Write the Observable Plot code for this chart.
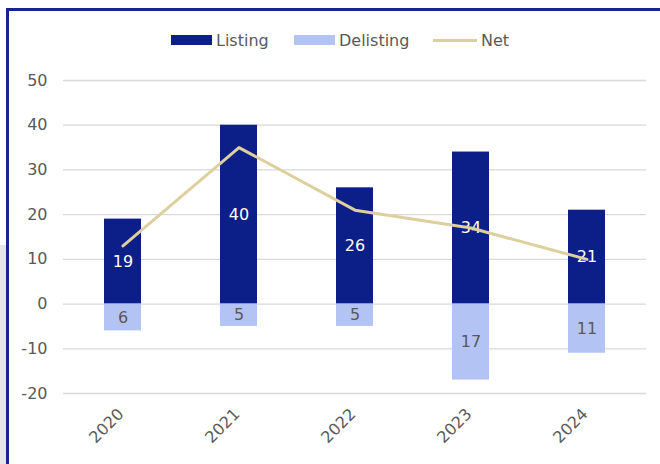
<!DOCTYPE html>
<html>
<head>
<meta charset="utf-8">
<script src="https://cdn.jsdelivr.net/npm/d3@7"></script>
<script src="https://cdn.jsdelivr.net/npm/@observablehq/plot@0.6"></script>
<style>
  html, body { margin: 0; padding: 0; background: #fff; }
  #wrap { position: relative; width: 660px; height: 464px; overflow: hidden; background: #fff; font-family: "DejaVu Sans", Verdana, sans-serif; }
  #grey { position: absolute; left: 0; top: 245px; width: 6px; height: 230px; background: #e6e6e6; }
  #frame { position: absolute; left: 6px; top: 8px; width: 700px; height: 500px; border-top: 3px solid #16268a; border-left: 3px solid #16268a; }
  #chart { position: absolute; left: 0; top: 0; }
  .leg { position: absolute; top: 30px; height: 20px; display: flex; align-items: center; font-size: 16px; color: #595959; white-space: nowrap; }
  .sw { display: inline-block; margin-right: 4px; }
</style>
</head>
<body>
<div id="wrap">
  <div id="grey"></div>
  <div id="frame"></div>
  <div id="chart"></div>
</div>
<script>
const years = ["2020", "2021", "2022", "2023", "2024"];
const listing = [19, 40, 26, 34, 21];
const delisting = [6, 5, 5, 17, 11];
const net = [13, 35, 21, 17, 10];
const seriesNames = ["Listing", "Delisting", "Net"];
const yTicks = [-20, -10, 0, 10, 20, 30, 40, 50];

const colors = { Listing: "#0c1e88", Delisting: "#b3c3f3", Net: "#ddd09c" };

const rows = years.map((y, i) => ({ year: y, listing: listing[i], delisting: -delisting[i], delAbs: delisting[i], net: net[i] }));

const chart = Plot.plot({
  width: 660,
  height: 464,
  marginTop: 80,
  marginBottom: 71,
  marginLeft: 63,
  marginRight: 14,
  style: { fontFamily: "DejaVu Sans, Verdana, sans-serif", fontSize: "16px", color: "#595959", background: "transparent" },
  x: { type: "band", domain: years, paddingInner: 0.68, paddingOuter: 0.34, label: null },
  y: { domain: [-20, 50], ticks: yTicks, label: null },
  marks: [
    Plot.ruleY(yTicks, { stroke: "#d9d9d9", strokeWidth: 1.3 }),
    Plot.barY(rows, { x: "year", y1: 0, y2: "listing", fill: colors.Listing }),
    Plot.barY(rows, { x: "year", y1: 0, y2: "delisting", fill: colors.Delisting }),
    Plot.text(rows, { x: "year", y: d => d.listing / 2, text: d => String(d.listing), fill: "#ffffff", fontSize: 16 }),
    Plot.text(rows, { x: "year", y: d => d.delisting / 2, text: d => String(d.delAbs), fill: "#595959", fontSize: 16 }),
    Plot.line(rows, { x: "year", y: "net", stroke: colors.Net, strokeWidth: 3 }),
    Plot.axisY({ ticks: yTicks, tickSize: 0, tickPadding: 16, tickFormat: d => String(d), fontSize: 16, fill: "#595959" }),
    Plot.axisX({ tickSize: 0, tickPadding: 18, tickRotate: -45, fontSize: 16, fill: "#595959", dx: -2 })
  ]
});
document.getElementById("chart").appendChild(chart);

// legend
const legLeft = [171, 294, 433];
const wrap = document.getElementById("wrap");
seriesNames.forEach((name, i) => {
  const item = document.createElement("div");
  item.className = "leg";
  item.style.left = legLeft[i] + "px";
  const sw = document.createElement("span");
  sw.className = "sw";
  if (name === "Net") {
    sw.style.width = "44px"; sw.style.height = "3px"; sw.style.background = colors[name];
  } else {
    sw.style.width = "41px"; sw.style.height = "10px"; sw.style.background = colors[name];
  }
  item.appendChild(sw);
  const t = document.createElement("span");
  t.textContent = name;
  item.appendChild(t);
  wrap.appendChild(item);
});
</script>
</body>
</html>
